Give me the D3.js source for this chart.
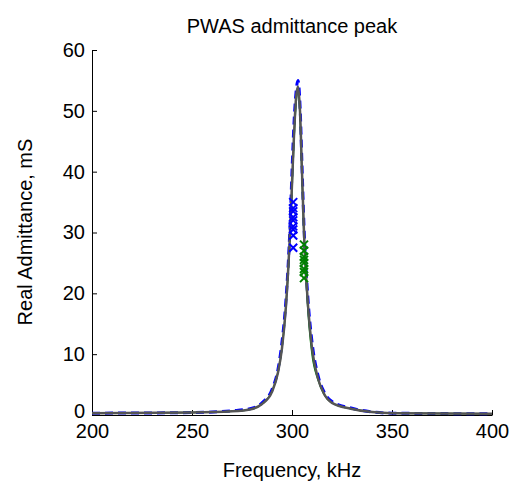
<!DOCTYPE html>
<html><head><meta charset="utf-8">
<script src="https://cdn.jsdelivr.net/npm/d3@7"></script>
<style>body{margin:0;background:#fff}text{font-family:Arial,"Liberation Sans",sans-serif}</style>
</head><body><svg id="c" width="518" height="492"></svg>
<script>
var freq = [200, 250, 270, 280, 285, 290, 293, 295, 297, 299, 300, 301, 302, 303, 304, 305, 306, 308, 310, 313, 316, 320, 330, 340, 350, 400];
var grayVals = [0.3, 0.4, 0.6, 1.0, 1.8, 3.8, 7, 11, 18, 30, 38, 46, 52, 54, 50, 40, 30, 18, 11, 6, 3.5, 2, 1, 0.5, 0.3, 0.2];
var blueVals = [0.3, 0.4, 0.7, 1.1, 2.0, 4.2, 7.5, 12, 19, 31, 40, 48, 53, 55, 51, 41, 31, 19, 12, 6.5, 3.8, 2.2, 1.1, 0.5, 0.3, 0.2];
var greenVals = [0.3, 0.4, 0.6, 1.0, 1.8, 3.9, 7, 11, 18, 29, 37, 45, 51, 53, 49, 39, 29, 17, 10, 5.8, 3.4, 2, 1, 0.5, 0.3, 0.2];
var blueMarkF = [300.6, 300.6, 300.6, 300.6, 300.6, 300.6, 300.6, 300.6, 300.6];
var blueMarkV = [27.5, 29.5, 30.5, 31, 32, 32.5, 33.5, 34, 35];
var greenMarkF = [306, 306, 306, 306, 306, 306, 306, 306];
var greenMarkV = [22.5, 23.5, 24, 25, 25.5, 26, 27, 28];
var xTicks = [200, 250, 300, 350, 400];
var yTicks = [0, 10, 20, 30, 40, 50, 60];

var svg = d3.select("#c");
var x = d3.scaleLinear().domain([200, 400]).range([92, 492]);
var y = d3.scaleLinear().domain([0, 60]).range([415, 50]);

svg.append("g").attr("transform", "translate(0,415)")
    .call(d3.axisBottom(x).tickValues(xTicks).tickSizeInner(-5).tickSizeOuter(0).tickPadding(9))
    .call(function(g) { g.selectAll("text").attr("font-size", 20).attr("fill", "#000"); g.selectAll("line,path").attr("stroke", "#000"); });
svg.append("g").attr("transform", "translate(92,0)")
    .call(d3.axisLeft(y).tickValues(yTicks).tickSizeInner(-5).tickSizeOuter(0).tickPadding(7))
    .call(function(g) { g.selectAll("text").attr("font-size", 20).attr("fill", "#000"); g.selectAll("line,path").attr("stroke", "#000"); });
svg.selectAll(".tick text").filter(function(d) { return d === 0; }).attr("dy", "0.1em");

var line = d3.line().x(function(d) { return x(d[0]); }).y(function(d) { return y(d[1]); }).curve(d3.curveMonotoneX);
svg.append("path").datum(d3.zip(freq, blueVals)).attr("d", line)
    .attr("fill", "none").attr("stroke", "#0000ff").attr("stroke-width", 3).attr("stroke-dasharray", "8,5");
svg.append("path").datum(d3.zip(freq, greenVals)).attr("d", line)
    .attr("fill", "none").attr("stroke", "#008000").attr("stroke-width", 1.5);
svg.append("path").datum(d3.zip(freq, grayVals)).attr("d", line)
    .attr("fill", "none").attr("stroke", "#555").attr("stroke-width", 2.5);

function marks(fs, vs, col) {
    var s = 4;
    svg.append("g").selectAll("path").data(d3.zip(fs, vs)).enter().append("path")
        .attr("d", function(d) {
            var cx = x(d[0]), cy = y(d[1]);
            return "M" + (cx - s) + "," + (cy - s) + "L" + (cx + s) + "," + (cy + s) + "M" + (cx - s) + "," + (cy + s) + "L" + (cx + s) + "," + (cy - s);
        })
        .attr("stroke", col).attr("stroke-width", 2);
}
marks(blueMarkF, blueMarkV, "#0000ff");
marks(greenMarkF, greenMarkV, "#008000");

svg.append("text").attr("x", 292).attr("y", 33).attr("text-anchor", "middle").attr("font-size", 20).text("PWAS admittance peak");
svg.append("text").attr("x", 292).attr("y", 477).attr("text-anchor", "middle").attr("font-size", 20).text("Frequency, kHz");
svg.append("text").attr("transform", "translate(32,232) rotate(-90)").attr("text-anchor", "middle").attr("font-size", 20).text("Real Admittance, mS");
</script></body></html>
